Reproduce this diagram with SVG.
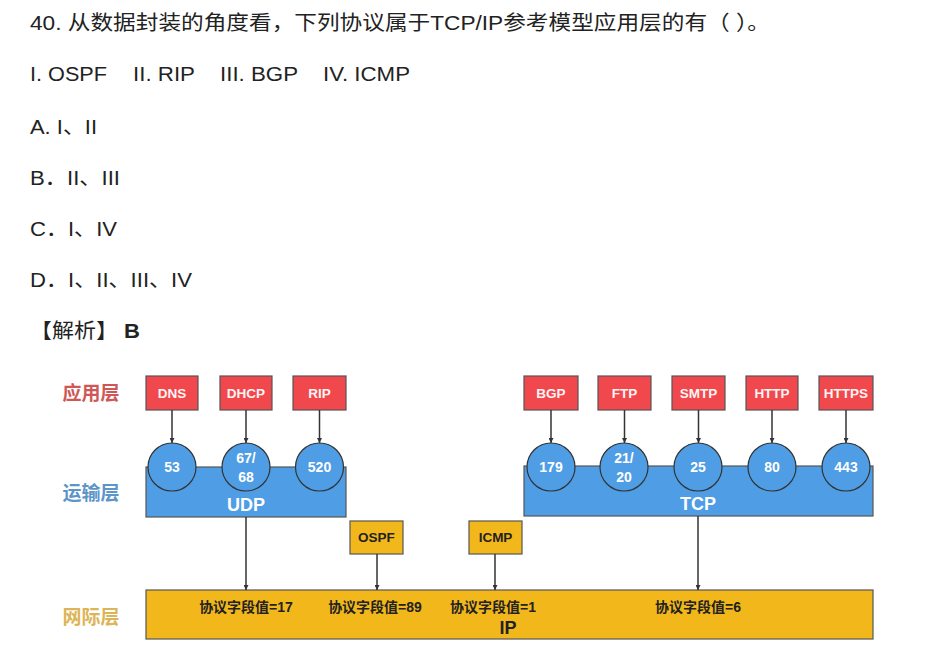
<svg xmlns="http://www.w3.org/2000/svg" width="943" height="666" viewBox="0 0 943 666">
<defs>
<style>
.q{font-family:"Liberation Sans","Noto Sans CJK SC",sans-serif;font-size:20.5px;fill:#222}
.lay{font-family:"Liberation Sans","Noto Sans CJK SC",sans-serif;font-size:19px;font-weight:bold;text-anchor:middle}
.app rect{fill:#f0484c;stroke:#555;stroke-width:1.2}
.app text{font-family:"Liberation Sans","Noto Sans CJK SC",sans-serif;font-size:13.5px;font-weight:bold;fill:#fff4f4;text-anchor:middle}
.port text{font-family:"Liberation Sans",sans-serif;font-size:14px;font-weight:bold;fill:#fff;text-anchor:middle}
.port circle{fill:#4f9de4;stroke:#333;stroke-width:1.2}
.tr rect{fill:#4f9de4;stroke:#555;stroke-width:1.2}
.tr text{font-family:"Liberation Sans",sans-serif;font-size:18px;font-weight:bold;fill:#fff;text-anchor:middle}
.net rect{fill:#f2b81b;stroke:#555;stroke-width:1.2}
.net text{font-family:"Liberation Sans","Noto Sans CJK SC",sans-serif;font-size:13.5px;font-weight:bold;fill:#222;text-anchor:middle}
.ip text.f{font-size:14px}
.ip text.big{font-size:18px}
.conn line{stroke:#333;stroke-width:1.5;marker-end:url(#ah)}
</style>
<marker id="ah" viewBox="0 0 10 10" refX="10" refY="5" markerWidth="5" markerHeight="5" orient="auto" markerUnits="userSpaceOnUse">
<path d="M0,0 L10,5 L0,10 z" fill="#333"/>
</marker>
</defs>
<rect width="943" height="666" fill="#fff"/>

<g id="question">
<text class="q" x="30" y="30" textLength="740" lengthAdjust="spacingAndGlyphs">40. 从数据封装的角度看，下列协议属于TCP/IP参考模型应用层的有（  ）。</text>
<text class="q" x="30" y="81" textLength="77" lengthAdjust="spacingAndGlyphs">I. OSPF</text>
<text class="q" x="133" y="81" textLength="62" lengthAdjust="spacingAndGlyphs">II. RIP</text>
<text class="q" x="220" y="81" textLength="78" lengthAdjust="spacingAndGlyphs">III. BGP</text>
<text class="q" x="323" y="81" textLength="87" lengthAdjust="spacingAndGlyphs">IV. ICMP</text>
<text class="q" x="30" y="134" textLength="67" lengthAdjust="spacingAndGlyphs">A. I、II</text>
<text class="q" x="30" y="185" textLength="90" lengthAdjust="spacingAndGlyphs">B．II、III</text>
<text class="q" x="30" y="236" textLength="87" lengthAdjust="spacingAndGlyphs">C．I、IV</text>
<text class="q" x="30" y="287" textLength="162" lengthAdjust="spacingAndGlyphs">D．I、II、III、IV</text>
<text class="q" x="30" y="338" textLength="110" lengthAdjust="spacingAndGlyphs">【解析】 <tspan font-weight="bold">B</tspan></text>
</g>

<g id="layer-labels">
<text class="lay" x="91" y="400" fill="#cf5757">应用层</text>
<text class="lay" x="91" y="500" fill="#5d94c9">运输层</text>
<text class="lay" x="91" y="624" fill="#dcb558">网际层</text>
</g>

<g id="ip" class="net ip">
<rect x="146" y="590" width="727" height="49"/>
<text class="f" x="246" y="612">协议字段值=17</text>
<text class="f" x="375" y="612">协议字段值=89</text>
<text class="f" x="493" y="612">协议字段值=1</text>
<text class="f" x="698" y="612">协议字段值=6</text>
<text class="big" x="508" y="634">IP</text>
</g>

<g id="udp" class="tr">
<rect x="146" y="467" width="200" height="50"/>
<text x="246" y="511">UDP</text>
</g>
<g id="tcp" class="tr">
<rect x="524" y="466" width="349" height="50"/>
<text x="698" y="510">TCP</text>
</g>

<g id="p53" class="port"><circle cx="172" cy="467" r="24"/><text x="172" y="472">53</text></g>
<g id="p67" class="port"><circle cx="246" cy="467" r="24"/><text x="246" y="463">67/</text><text x="246" y="482">68</text></g>
<g id="p520" class="port"><circle cx="319.5" cy="467" r="24"/><text x="319.5" y="472">520</text></g>
<g id="p179" class="port"><circle cx="551" cy="467" r="24"/><text x="551" y="472">179</text></g>
<g id="p21" class="port"><circle cx="624" cy="467" r="24"/><text x="624" y="463">21/</text><text x="624" y="482">20</text></g>
<g id="p25" class="port"><circle cx="698" cy="467" r="24"/><text x="698" y="472">25</text></g>
<g id="p80" class="port"><circle cx="772" cy="467" r="24"/><text x="772" y="472">80</text></g>
<g id="p443" class="port"><circle cx="846" cy="467" r="24"/><text x="846" y="472">443</text></g>

<g id="dns" class="app"><rect x="146" y="376" width="52" height="34"/><text x="172" y="398">DNS</text></g>
<g id="dhcp" class="app"><rect x="220" y="376" width="52" height="34"/><text x="246" y="398">DHCP</text></g>
<g id="rip" class="app"><rect x="293" y="376" width="53" height="34"/><text x="319.5" y="398">RIP</text></g>
<g id="bgp" class="app"><rect x="524" y="376" width="54" height="34"/><text x="551" y="398">BGP</text></g>
<g id="ftp" class="app"><rect x="598" y="376" width="53" height="34"/><text x="624.5" y="398">FTP</text></g>
<g id="smtp" class="app"><rect x="672" y="376" width="53" height="34"/><text x="698.5" y="398">SMTP</text></g>
<g id="http" class="app"><rect x="746" y="376" width="52" height="34"/><text x="772" y="398">HTTP</text></g>
<g id="https" class="app"><rect x="819" y="376" width="54" height="34"/><text x="846" y="398">HTTPS</text></g>

<g id="ospf" class="net"><rect x="350" y="521" width="53" height="33"/><text x="376.5" y="542">OSPF</text></g>
<g id="icmp" class="net"><rect x="469" y="521" width="53" height="33"/><text x="495.5" y="542">ICMP</text></g>

<g id="connectors" class="conn">
<line x1="172" y1="410" x2="172" y2="443"/>
<line x1="246" y1="410" x2="246" y2="443"/>
<line x1="319.5" y1="410" x2="319.5" y2="443"/>
<line x1="551" y1="410" x2="551" y2="443"/>
<line x1="624.5" y1="410" x2="624.5" y2="443"/>
<line x1="698.5" y1="410" x2="698.5" y2="443"/>
<line x1="772" y1="410" x2="772" y2="443"/>
<line x1="846" y1="410" x2="846" y2="443"/>
<line x1="246" y1="517" x2="246" y2="590"/>
<line x1="377" y1="554" x2="377" y2="590"/>
<line x1="495" y1="554" x2="495" y2="590"/>
<line x1="698" y1="516" x2="698" y2="590"/>
</g>
</svg>
